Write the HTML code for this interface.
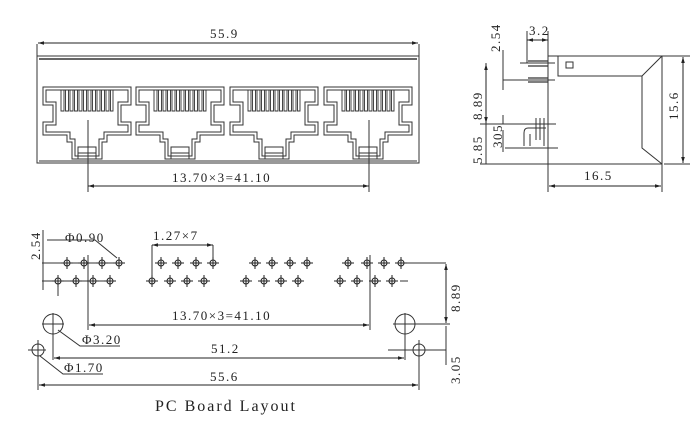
<!DOCTYPE html>
<html><head><meta charset="utf-8"><style>
html,body{margin:0;padding:0;background:#fff;}
svg{display:block;}
text{font-family:"Liberation Serif",serif;font-size:13px;fill:#222;letter-spacing:1.5px;}
</style></head><body>
<svg width="700" height="438" viewBox="0 0 700 438" xmlns="http://www.w3.org/2000/svg">
<defs>
<marker id="a" viewBox="0 0 10 10" refX="10" refY="5" markerWidth="6" markerHeight="6" orient="auto-start-reverse"><path d="M0,2 L10,5 L0,8z" fill="#222"/></marker>
<g id="jack" fill="none" stroke="#333" stroke-width="1">
<path d="M0,0 V18 H10 V35 H0 V48 H24 V55 H29 V72 H59 V55 H64 V48 H88 V35 H78 V18 H88 V0 Z"/>
<path d="M3,3 V15 H13 V38 H3 V45 H27 V52 H32 V69 H56 V52 H61 V45 H85 V38 H75 V15 H85 V3 Z"/>
<path d="M35,72 V60 H53 V72 M35,66 H53"/>
<g stroke-width="0.9">
<path d="M18,3 V24 H21 V3 M22.5,3 V24 H25.5 V3 M27,3 V24 H30 V3 M31.5,3 V24 H34.5 V3 M36,3 V24 H39 V3 M40.5,3 V24 H43.5 V3 M45,3 V24 H48 V3 M49.5,3 V24 H52.5 V3 M54,3 V24 H57 V3 M58.5,3 V24 H61.5 V3 M63,3 V24 H66 V3 M67.5,3 V24 H70 V3"/>
</g>
</g>
<g id="pin" stroke="#222" stroke-width="1" fill="none"><circle r="3"/><path d="M-6,0H6M0,-6V6"/></g>
</defs>

<!-- front view -->
<g stroke="#333" fill="none" stroke-width="1">
<rect x="37" y="56" width="382" height="107"/>
<path d="M39,59 H417" stroke-width="1.5"/>
<path d="M39,161 H417"/>
<path d="M37,44 V56 M419,44 V56"/>
<path d="M88,120 V192 M369,120 V192"/>
</g>
<line x1="38" y1="43" x2="418" y2="43" stroke="#222" marker-start="url(#a)" marker-end="url(#a)"/>
<text x="210" y="38">55.9</text>
<use href="#jack" x="43" y="87"/>
<use href="#jack" x="136" y="87"/>
<use href="#jack" x="230" y="87"/>
<use href="#jack" x="324" y="87"/>
<line x1="88" y1="186" x2="369" y2="186" stroke="#222" marker-start="url(#a)" marker-end="url(#a)"/>
<text x="172" y="182">13.70×3=41.10</text>

<!-- side view -->
<g stroke="#333" fill="none" stroke-width="1">
<path d="M558,56 H662 V164 H548 V56 H558 V76 H642 L662,56 M642,76 V148 L662,164"/>
<rect x="566" y="62" width="7" height="6"/>
<path d="M548,56 V192 M662,164 V192"/>
<path d="M527,31 V63 M548,31 V56"/>
<path d="M520,63 H555 M503,80 H555 M503,124 H556 M505,148 H558" />
<path d="M528,61 H548 M528,66 H548 M528,78 H548 M528,82 H548" stroke-width="1.2"/>
<path d="M524,146 V133 Q524,128 528,128 H546 M530,146 V134 M540,140 V118 M536,140 V118 M544,118 V146"/>
<path d="M503,50 V70 M503,70 V90 M503,115 V124 M503,130 V152"/>
<path d="M486,63 V164 M480,124 H505 M480,164 H548 M662,56 H690 M664,164 H690"/>
</g>
<line x1="527" y1="40" x2="548" y2="40" stroke="#222" marker-start="url(#a)" marker-end="url(#a)"/>
<text x="529" y="35">3.2</text>
<line x1="486" y1="64" x2="486" y2="123" stroke="#222" marker-start="url(#a)" marker-end="url(#a)"/>
<line x1="683" y1="57" x2="683" y2="163" stroke="#222" marker-start="url(#a)" marker-end="url(#a)"/>
<line x1="549" y1="186" x2="661" y2="186" stroke="#222" marker-start="url(#a)" marker-end="url(#a)"/>
<text x="584" y="180">16.5</text>
<text transform="translate(500,52) rotate(-90)">2.54</text>
<text transform="translate(482,120) rotate(-90)">8.89</text>
<text transform="translate(482,164) rotate(-90)">5.85</text>
<text transform="translate(502,148) rotate(-90)">305</text>
<text transform="translate(678,120) rotate(-90)">15.6</text>

<!-- PCB layout -->
<g stroke="#333" fill="none" stroke-width="1">
<path d="M42,263 H125 M42,281 H115 M43,230 V290"/>
<path d="M402,263 H446 M400,281 H408 M446,326 V365 M388,350 H446"/>
<path d="M88,255 V330 M370,255 V330 M152,245 V281 M213,245 V263"/>
<path d="M47,240 H95 L117,258"/>
<path d="M58,281 V296"/>
<circle cx="53" cy="324" r="10"/><path d="M42,324 H64 M53,313 V360"/>
<circle cx="405" cy="324" r="10"/><path d="M393,324 H450 M405,313 V360"/>
<circle cx="38" cy="350" r="6"/><path d="M28,350 H46 M38,340 V390"/>
<circle cx="419" cy="350" r="6"/><path d="M411,350 H428 M419,340 V390"/>
<path d="M58,330 L80,346 H120 M40,356 L63,374 H103"/>
</g>
<use href="#pin" x="67" y="263"/><use href="#pin" x="84" y="263"/><use href="#pin" x="102" y="263"/><use href="#pin" x="119" y="263"/>
<use href="#pin" x="58" y="281"/><use href="#pin" x="76" y="281"/><use href="#pin" x="93" y="281"/><use href="#pin" x="110" y="281"/>
<use href="#pin" x="161" y="263"/><use href="#pin" x="178" y="263"/><use href="#pin" x="196" y="263"/><use href="#pin" x="213" y="263"/>
<use href="#pin" x="152" y="281"/><use href="#pin" x="170" y="281"/><use href="#pin" x="187" y="281"/><use href="#pin" x="204" y="281"/>
<use href="#pin" x="255" y="263"/><use href="#pin" x="272" y="263"/><use href="#pin" x="290" y="263"/><use href="#pin" x="307" y="263"/>
<use href="#pin" x="246" y="281"/><use href="#pin" x="264" y="281"/><use href="#pin" x="281" y="281"/><use href="#pin" x="298" y="281"/>
<use href="#pin" x="348" y="263"/><use href="#pin" x="367" y="263"/><use href="#pin" x="384" y="263"/><use href="#pin" x="401" y="263"/>
<use href="#pin" x="340" y="281"/><use href="#pin" x="357" y="281"/><use href="#pin" x="375" y="281"/><use href="#pin" x="392" y="281"/>
<line x1="152" y1="245" x2="213" y2="245" stroke="#222" marker-start="url(#a)" marker-end="url(#a)"/>
<line x1="89" y1="325" x2="369" y2="325" stroke="#222" marker-start="url(#a)" marker-end="url(#a)"/>
<line x1="54" y1="358" x2="404" y2="358" stroke="#222" marker-start="url(#a)" marker-end="url(#a)"/>
<line x1="39" y1="385" x2="418" y2="385" stroke="#222" marker-start="url(#a)" marker-end="url(#a)"/>
<line x1="446" y1="264" x2="446" y2="323" stroke="#222" marker-start="url(#a)" marker-end="url(#a)"/>
<text x="65" y="242">Φ0.90</text>
<text x="153" y="240">1.27×7</text>
<text transform="translate(40,260) rotate(-90)">2.54</text>
<text x="172" y="320">13.70×3=41.10</text>
<text x="82" y="344">Φ3.20</text>
<text x="211" y="353">51.2</text>
<text x="64" y="372">Φ1.70</text>
<text x="210" y="381">55.6</text>
<text transform="translate(460,312) rotate(-90)">8.89</text>
<text transform="translate(460,384) rotate(-90)">3.05</text>
<text x="155" y="411" style="font-size:16px;letter-spacing:2px">PC Board Layout</text>
</svg>
</body></html>
